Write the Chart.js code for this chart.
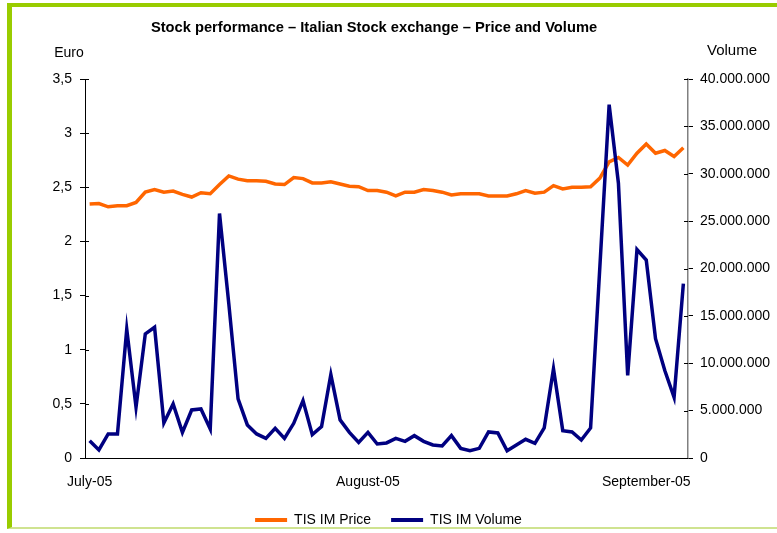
<!DOCTYPE html>
<html>
<head>
<meta charset="utf-8">
<script src="https://cdn.jsdelivr.net/npm/chart.js@4"></script>
<style>
    body { margin: 0; background: #fff; }
    #box { position: relative; width: 777px; height: 533px; }
    #frame {
        position: absolute; left: 7px; top: 3px; width: 770px; height: 526px;
        border-left: 5px solid #99cc00; border-top: 4px solid #99cc00;
        border-bottom: 2px solid #cfe390; box-sizing: border-box; pointer-events: none;
    }
</style>
</head>
<body>
<div id="box">
    <canvas id="grafico"></canvas>
    <div id="frame"></div>
</div>
<script>
var titolo = 'Stock performance \u2013 Italian Stock exchange \u2013 Price and Volume';
var meseEtichette = ['July-05', 'August-05', 'September-05'];
var ogniTick = 30;

var prezzo = [2.345, 2.35, 2.32, 2.33, 2.33, 2.36, 2.455, 2.48, 2.455, 2.465,
    2.435, 2.41, 2.45, 2.44, 2.525, 2.605, 2.575, 2.56, 2.56, 2.555,
    2.53, 2.525, 2.59, 2.58, 2.54, 2.54, 2.55, 2.53, 2.51, 2.505,
    2.47, 2.47, 2.455, 2.42, 2.455, 2.455, 2.48, 2.47, 2.455, 2.43,
    2.44, 2.44, 2.44, 2.42, 2.42, 2.42, 2.44, 2.47, 2.445, 2.455,
    2.515, 2.485, 2.5, 2.5, 2.505, 2.585, 2.735, 2.775, 2.705, 2.815,
    2.9, 2.815, 2.84, 2.785, 2.865];

var volume = [1830000, 850000, 2540000, 2540000, 13600000, 5360000, 13100000, 13800000, 3700000, 5700000,
    2700000, 5070000, 5180000, 3070000, 25800000, 16300000, 6240000, 3490000, 2540000, 2070000,
    3130000, 2070000, 3660000, 6060000, 2470000, 3310000, 8810000, 4020000, 2710000, 1650000,
    2710000, 1480000, 1590000, 2070000, 1760000, 2360000, 1760000, 1380000, 1270000, 2360000,
    1020000, 770000, 1020000, 2750000, 2640000, 770000, 1380000, 1970000, 1550000, 3170000,
    9410000, 2890000, 2750000, 1900000, 3170000, 20200000, 37300000, 29000000, 8710000, 22000000,
    20900000, 12600000, 9240000, 6410000, 18400000];

var giorni = [];
for (var i = 0; i < prezzo.length; i++) {
    giorni.push(i);
}

var font = { family: '"Liberation Sans", Arial, sans-serif', size: 14 };

// titolo, nomi degli assi e tacche interne
var extra = {
    id: 'extra',
    afterDraw: function (chart) {
        var c = chart.ctx;
        var sx = chart.scales.y, dx = chart.scales.y1;
        c.save();
        c.fillStyle = '#000';
        c.textBaseline = 'middle';
        c.textAlign = 'center';
        c.font = 'bold 14.7px ' + font.family;
        c.fillText(titolo, 374, 28);
        c.font = '14px ' + font.family;
        c.fillText('Euro', sx.right - 16, 53);
        c.font = '15px ' + font.family;
        c.fillText('Volume', dx.left + 44, 51);
        c.lineWidth = 1;
        c.strokeStyle = '#000';
        sx.ticks.forEach(function (t, k) {
            var y = Math.round(sx.getPixelForTick(k)) + 0.5;
            c.beginPath(); c.moveTo(sx.right, y); c.lineTo(sx.right + 4, y); c.stroke();
        });
        dx.ticks.forEach(function (t, k) {
            var y = Math.round(dx.getPixelForTick(k)) + 0.5;
            c.beginPath(); c.moveTo(dx.left - 4, y); c.lineTo(dx.left, y); c.stroke();
        });
        c.restore();
    }
};

var ctx = document.getElementById('grafico');
var chart = new Chart(ctx, {
    type: 'line',
    data: {
        labels: giorni,
        datasets: [{
            label: 'TIS IM Price',
            data: prezzo,
            borderColor: '#ff6600',
            backgroundColor: '#ff6600',
            borderWidth: 3.5,
            pointRadius: 0,
            yAxisID: 'y',
            order: 1
        }, {
            label: 'TIS IM Volume',
            data: volume,
            borderColor: '#000080',
            backgroundColor: '#000080',
            borderWidth: 3.5,
            pointRadius: 0,
            yAxisID: 'y1',
            order: 0
        }]
    },
    options: {
        responsive: true,
        maintainAspectRatio: false,
        animation: false,
        layout: { padding: { top: 79, left: 0, right: 0, bottom: -4 } },
        plugins: {
            title: { display: false },
            tooltip: { enabled: false },
            legend: {
                position: 'bottom',
                labels: {
                    boxWidth: 32,
                    boxHeight: 4,
                    padding: 20,
                    color: '#000',
                    font: font,
                    generateLabels: function (chart) {
                        return Chart.defaults.plugins.legend.labels.generateLabels(chart)
                            .sort(function (a, b) { return a.datasetIndex - b.datasetIndex; })
                            .map(function (l) { l.lineWidth = 0; return l; });
                    }
                }
            }
        },
        scales: {
            x: {
                offset: true,
                grid: { display: false, drawTicks: false },
                border: { display: true, color: '#000', width: 1 },
                ticks: {
                    autoSkip: false,
                    maxRotation: 0,
                    padding: 16,
                    color: '#000',
                    font: font,
                    callback: function (v, idx) {
                        return idx % ogniTick === 0 ? meseEtichette[idx / ogniTick] : null;
                    }
                },
                afterFit: function (s) { s.height = 35; }
            },
            y: {
                position: 'left',
                min: 0,
                max: 3.5,
                grid: { drawOnChartArea: false, tickLength: 5, color: '#000' },
                border: { color: '#000', width: 1 },
                ticks: {
                    stepSize: 0.5,
                    padding: 8,
                    color: '#000',
                    font: font,
                    callback: function (v) { return v.toLocaleString('it-IT'); }
                },
                afterFit: function (s) { s.width = 85; }
            },
            y1: {
                position: 'right',
                min: 0,
                max: 40000000,
                grid: { drawOnChartArea: false, tickLength: 5, color: '#000' },
                border: { color: '#808080', width: 1.5 },
                ticks: {
                    stepSize: 5000000,
                    padding: 7,
                    color: '#000',
                    font: font,
                    callback: function (v) { return v.toLocaleString('de-DE'); }
                },
                afterFit: function (s) { s.width = 89; }
            }
        }
    },
    plugins: [extra]
});
</script>
</body>
</html>
